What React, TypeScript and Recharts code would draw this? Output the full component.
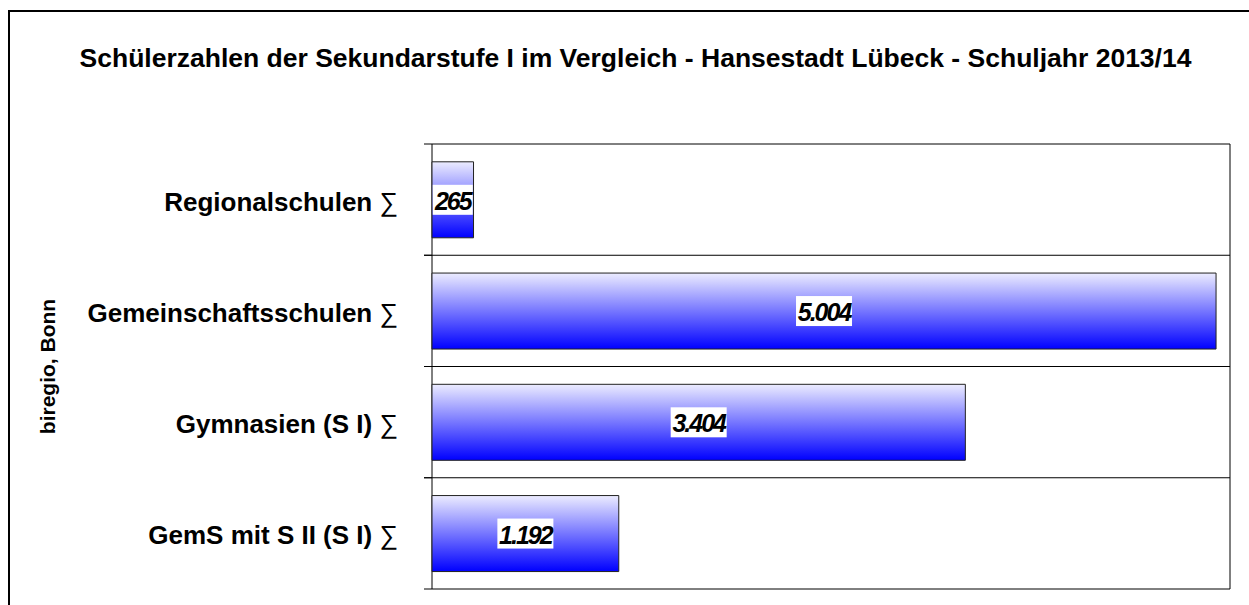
import { Bar, BarChart, CartesianGrid, LabelList, XAxis, YAxis } from 'recharts'

const categories = [
  'Regionalschulen ∑',
  'Gemeinschaftsschulen ∑',
  'Gymnasien (S I) ∑',
  'GemS mit S II (S I) ∑',
]
const pupils = [265, 5004, 3404, 1192]
const xMax = 5093

const data = categories.map((name, i) => ({ name, value: pupils[i] }))

const W = 1249
const H = 605
const PLOT_TOP = 144
const PLOT_BOTTOM = 589
const PLOT_LEFT = 432
const PLOT_RIGHT = 1230
const BAND = (PLOT_BOTTOM - PLOT_TOP) / categories.length
const FONT = '"Liberation Sans", Arial, sans-serif'

const fmt = (v: number) => String(v).replace(/\B(?=(\d{3})+(?!\d))/g, '.')

function CategoryTick(props: any) {
  const { x, y, payload } = props
  const label: string = payload.value
  const hasSum = label.endsWith('∑')
  const main = hasSum ? label.slice(0, -1) : label
  return (
    <g>
      <text x={x - 34} y={y + 2} textAnchor="end" dominantBaseline="central" fontFamily={FONT} fontWeight="bold" fontSize={26} fill="#000">
        {main}
        {hasSum && <tspan fontWeight="normal">∑</tspan>}
      </text>
      <line x1={x - 8} x2={x} y1={y - BAND / 2} y2={y - BAND / 2} stroke="#000" />
      <line x1={x - 8} x2={x} y1={y + BAND / 2} y2={y + BAND / 2} stroke="#000" />
    </g>
  )
}

function ValueLabel(props: any) {
  const { x, y, width, height, value } = props
  const txt = fmt(value)
  const digits = txt.replace(/\./g, '').length
  const dots = txt.length - digits
  const w = digits * 11 + dots * 5 + 7
  const cx = x + width / 2
  const cy = y + height / 2
  return (
    <g>
      <rect x={cx - w / 2} y={cy - 15} width={w} height={30} fill="#fff" />
      <text x={cx} y={cy + 1} textAnchor="middle" dominantBaseline="central" fontFamily={FONT} fontWeight="bold" fontStyle="italic" fontSize={25} letterSpacing={-2} fill="#000">
        {txt}
      </text>
    </g>
  )
}

export default function App() {
  return (
    <div style={{ position: 'absolute', left: 0, top: 0, width: W, height: H, overflow: 'hidden', background: '#fff' }}>
      <div style={{ position: 'absolute', left: 8, top: 10, width: W - 8, height: H - 10, borderLeft: '2px solid #000', borderTop: '2px solid #000', boxSizing: 'border-box' }} />
      <div style={{ position: 'absolute', left: 0, top: 43, width: 1271, textAlign: 'center', fontFamily: FONT, fontWeight: 'bold', fontSize: 26.5, lineHeight: '30px', color: '#000', whiteSpace: 'nowrap' }}>
        Schülerzahlen der Sekundarstufe I im Vergleich - Hansestadt Lübeck - Schuljahr 2013/14
      </div>
      <div style={{ position: 'absolute', left: 0, top: 0 }}>
        <BarChart
          width={W}
          height={H}
          data={data}
          layout="vertical"
          barCategoryGap="16%"
          margin={{ top: PLOT_TOP, right: W - PLOT_RIGHT, bottom: H - PLOT_BOTTOM, left: 20 }}
        >
          <defs>
            <linearGradient id="barFill" x1="0" y1="0" x2="0" y2="1">
              <stop offset="0%" stopColor="#ececff" />
              <stop offset="100%" stopColor="#0000ff" />
            </linearGradient>
          </defs>
          <CartesianGrid
            stroke="#000"
            horizontalCoordinatesGenerator={({ offset }: any) =>
              categories.map((_, i) => offset.top + i * offset.height / categories.length).concat(offset.top + offset.height)
            }
            verticalCoordinatesGenerator={({ offset }: any) => [offset.left, offset.left + offset.width]}
          />
          <XAxis type="number" domain={[0, xMax]} hide />
          <YAxis
            type="category"
            dataKey="name"
            width={PLOT_LEFT - 20}
            tickLine={false}
            axisLine={false}
            tickSize={0}
            tickMargin={0}
            tick={<CategoryTick />}
            label={({ viewBox }: any) => (
              <text
                x={viewBox.x + 27}
                y={viewBox.y + viewBox.height / 2}
                transform={`rotate(-90 ${viewBox.x + 27} ${viewBox.y + viewBox.height / 2})`}
                textAnchor="middle"
                dominantBaseline="central"
                fontFamily={FONT}
                fontWeight="bold"
                fontSize={21}
                fill="#000"
              >
                biregio, Bonn
              </text>
            )}
          />
          <Bar dataKey="value" fill="url(#barFill)" stroke="#222" strokeWidth={1} isAnimationActive={false}>
            <LabelList dataKey="value" content={<ValueLabel />} />
          </Bar>
        </BarChart>
      </div>
    </div>
  )
}
